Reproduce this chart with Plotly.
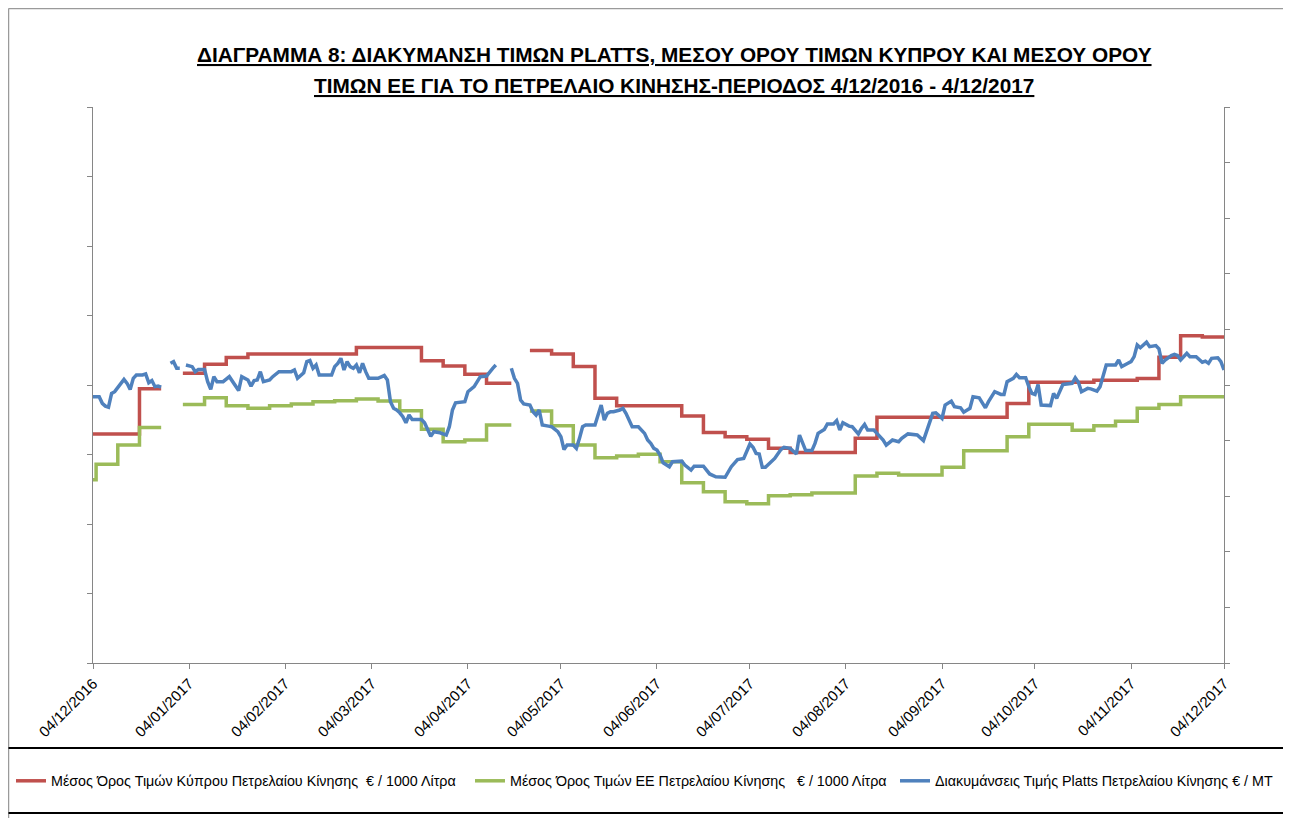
import plotly.graph_objects as go

# ---------------- data ----------------
red_name = "Μέσος Όρος Τιμών Κύπρου Πετρελαίου Κίνησης  € / 1000 Λίτρα"
green_name = "Μέσος Όρος Τιμών ΕΕ Πετρελαίου Κίνησης   € / 1000 Λίτρα"
blue_name = "Διακυμάνσεις Τιμής Platts Πετρελαίου Κίνησης € / MT"

red_dates = ["2016-12-04", "2016-12-19", "2016-12-26", "2016-12-27", "2017-01-02", "2017-01-09",
             "2017-01-16", "2017-01-23", "2017-02-27", "2017-03-20", "2017-03-27", "2017-04-03",
             "2017-04-10", "2017-04-18", "2017-04-19", "2017-04-24", "2017-05-01", "2017-05-08",
             "2017-05-15", "2017-05-22", "2017-06-12", "2017-06-19", "2017-06-26", "2017-07-03",
             "2017-07-10", "2017-07-17", "2017-08-07", "2017-08-14", "2017-09-25", "2017-10-02",
             "2017-10-23", "2017-11-06", "2017-11-13", "2017-11-20", "2017-11-27", "2017-12-04"]
red_vals = [659, 789, 789, None, 834, 860, 879, 889, 908, 870, 855, 831, 805, 805, None,
            899, 889, 853, 762, 740, 711, 663, 651, 644, 618, 606, 647, 707, 747, 808,
            814, 819, 880, 942, 938, 938]

green_dates = ["2016-12-04", "2016-12-05", "2016-12-12", "2016-12-19", "2016-12-26", "2016-12-27",
               "2017-01-02", "2017-01-09", "2017-01-16", "2017-01-23", "2017-01-30", "2017-02-06",
               "2017-02-13", "2017-02-20", "2017-02-27", "2017-03-06", "2017-03-13", "2017-03-20",
               "2017-03-27", "2017-04-03", "2017-04-10", "2017-04-18", "2017-04-19", "2017-04-24",
               "2017-05-01", "2017-05-08", "2017-05-15", "2017-05-22", "2017-05-29", "2017-06-05",
               "2017-06-12", "2017-06-19", "2017-06-26", "2017-07-03", "2017-07-10", "2017-07-17",
               "2017-07-24", "2017-08-07", "2017-08-14", "2017-08-21", "2017-09-04", "2017-09-11",
               "2017-09-25", "2017-10-02", "2017-10-16", "2017-10-23", "2017-10-30", "2017-11-06",
               "2017-11-13", "2017-11-20", "2017-12-04"]
green_vals = [527, 572, 627, 678, 678, None, 744, 763, 740, 733, 740, 745, 752, 755, 760, 754,
              726, 673, 637, 642, 685, 685, None, 725, 683, 627, 591, 596, 601, 579, 519, 493,
              464, 458, 481, 484, 489, 538, 546, 541, 563, 611, 651, 687, 670, 683, 696, 733,
              744, 766, 766]

blue_dates = [
    "2016-12-04", "2016-12-06", "2016-12-07", "2016-12-08", "2016-12-09", "2016-12-10", "2016-12-11",
    "2016-12-13", "2016-12-14", "2016-12-15", "2016-12-16", "2016-12-17", "2016-12-18", "2016-12-20",
    "2016-12-21", "2016-12-22", "2016-12-23", "2016-12-24", "2016-12-25", "2016-12-26", "2016-12-27",
    "2016-12-29", "2016-12-30", "2016-12-31", "2017-01-01", "2017-01-02", "2017-01-03", "2017-01-05",
    "2017-01-06", "2017-01-07", "2017-01-09", "2017-01-10", "2017-01-11", "2017-01-12", "2017-01-13",
    "2017-01-15", "2017-01-17", "2017-01-18", "2017-01-20", "2017-01-21", "2017-01-23", "2017-01-24",
    "2017-01-25", "2017-01-26", "2017-01-27", "2017-01-28", "2017-01-30", "2017-01-31", "2017-02-02",
    "2017-02-06", "2017-02-07", "2017-02-08", "2017-02-10", "2017-02-11", "2017-02-12", "2017-02-13",
    "2017-02-14", "2017-02-15", "2017-02-17", "2017-02-19", "2017-02-20", "2017-02-21", "2017-02-22",
    "2017-02-23", "2017-02-24", "2017-02-25", "2017-02-26", "2017-02-27", "2017-02-28", "2017-03-01",
    "2017-03-02", "2017-03-03", "2017-03-06", "2017-03-07", "2017-03-08", "2017-03-09", "2017-03-10",
    "2017-03-11", "2017-03-12", "2017-03-13", "2017-03-14", "2017-03-15", "2017-03-16", "2017-03-17",
    "2017-03-20", "2017-03-21", "2017-03-22", "2017-03-23", "2017-03-24", "2017-03-26", "2017-03-28",
    "2017-03-29", "2017-03-30", "2017-03-31", "2017-04-03", "2017-04-04", "2017-04-06", "2017-04-07",
    "2017-04-08", "2017-04-10", "2017-04-11", "2017-04-12", "2017-04-13", "2017-04-14", "2017-04-18",
    "2017-04-19", "2017-04-20", "2017-04-21", "2017-04-22", "2017-04-24", "2017-04-25", "2017-04-26",
    "2017-04-27", "2017-04-28", "2017-04-30", "2017-05-01", "2017-05-03", "2017-05-04", "2017-05-05",
    "2017-05-06", "2017-05-08", "2017-05-09", "2017-05-10", "2017-05-11", "2017-05-12", "2017-05-15",
    "2017-05-16", "2017-05-17", "2017-05-18", "2017-05-19", "2017-05-20", "2017-05-21", "2017-05-23",
    "2017-05-24", "2017-05-25", "2017-05-27", "2017-05-29", "2017-05-31", "2017-06-01", "2017-06-02",
    "2017-06-03", "2017-06-04", "2017-06-05", "2017-06-06", "2017-06-08", "2017-06-09", "2017-06-12",
    "2017-06-13", "2017-06-15", "2017-06-16", "2017-06-19", "2017-06-21", "2017-06-23", "2017-06-26",
    "2017-06-28", "2017-06-30", "2017-07-02", "2017-07-04", "2017-07-05", "2017-07-06", "2017-07-07",
    "2017-07-08", "2017-07-09", "2017-07-11", "2017-07-12", "2017-07-14", "2017-07-15", "2017-07-17",
    "2017-07-19", "2017-07-20", "2017-07-22", "2017-07-24", "2017-07-25", "2017-07-26", "2017-07-28",
    "2017-07-29", "2017-07-31", "2017-08-01", "2017-08-02", "2017-08-03", "2017-08-05", "2017-08-06",
    "2017-08-08", "2017-08-09", "2017-08-10", "2017-08-11", "2017-08-13", "2017-08-14", "2017-08-16",
    "2017-08-17", "2017-08-19", "2017-08-21", "2017-08-22", "2017-08-24", "2017-08-27", "2017-08-29",
    "2017-08-31", "2017-09-01", "2017-09-02", "2017-09-04", "2017-09-05", "2017-09-07", "2017-09-08",
    "2017-09-10", "2017-09-11", "2017-09-13", "2017-09-14", "2017-09-16", "2017-09-18", "2017-09-19",
    "2017-09-21", "2017-09-23", "2017-09-24", "2017-09-25", "2017-09-27", "2017-09-28", "2017-09-29",
    "2017-10-01", "2017-10-02", "2017-10-03", "2017-10-04", "2017-10-05", "2017-10-06", "2017-10-08",
    "2017-10-09", "2017-10-10", "2017-10-11", "2017-10-13", "2017-10-16", "2017-10-17", "2017-10-18",
    "2017-10-19", "2017-10-21", "2017-10-22", "2017-10-24", "2017-10-25", "2017-10-26", "2017-10-27",
    "2017-10-28", "2017-10-30", "2017-10-31", "2017-11-01", "2017-11-03", "2017-11-04", "2017-11-05",
    "2017-11-06", "2017-11-07", "2017-11-09", "2017-11-10", "2017-11-12", "2017-11-13", "2017-11-14",
    "2017-11-15", "2017-11-17", "2017-11-18", "2017-11-19", "2017-11-20", "2017-11-22", "2017-11-23",
    "2017-11-25", "2017-11-27", "2017-11-28", "2017-11-29", "2017-11-30", "2017-12-02", "2017-12-03",
    "2017-12-04"]
blue_vals = [
    479, 479, 467, 462, 460, 485, 488,
    503, 510, 503, 492, 512, 518, 518,
    520, 504, 508, 497, 498, 496, None,
    539, 542, 530, 530, None, 536, 533,
    524, 528, 528, 506, 492, 515, 506,
    506, 515, 506, 490, 515, 509, 498,
    508, 509, 524, 506, 509, 515, 524,
    524, 527, 512, 522, 542, 544, 530,
    536, 518, 518, 518, 533, 539, 548,
    527, 542, 533, 530, 536, 522, 539,
    524, 512, 512, 515, 517, 509, 470,
    458, 455, 450, 443, 432, 446, 438,
    438, 432, 419, 408, 416, 414, 410,
    425, 455, 468, 470, 488, 497, 506,
    515, 516, 524, 530, 536, None, 530,
    512, 503, 473, 466, 464, 452, 446,
    455, 428, 426, 425, 416, 407, 384,
    392, 392, 386, 404, 425, 428, 428,
    446, 464, 437, 449, 452, 452, 455,
    458, 449, 425, 425, 413, 401, 395,
    386, 383, 374, 360, 353, 362, 363,
    356, 347, 354, 354, 340, 335, 334,
    353, 366, 368, 394, 388, 377, 376,
    352, 352, 362, 368, 384, 388, 386,
    376, 410, 382, 382, 395, 413, 420,
    430, 430, 436, 419, 432, 426, 425,
    412, 422, 429, 419, 419, 413, 401,
    392, 401, 398, 404, 412, 410, 400,
    434, 449, 450, 440, 464, 471, 461,
    459, 451, 458, 479, 477, 459, 470,
    488, 483, 483, 506, 512, 519, 513,
    513, 497, 485, 483, 501, 464, 463,
    463, 485, 476, 501, 503, 513, 505,
    488, 494, 493, 489, 497, 515, 536,
    536, 536, 545, 533, 539, 542, 551,
    572, 567, 577, 569, 571, 565, 539,
    545, 553, 555, 553, 545, 557, 551,
    551, 541, 543, 539, 548, 549, 542,
    527]

x_start = "2016-12-04"
x_end = "2017-12-04"

# ---------------- figure ----------------
RED = "#C0504D"
GREEN = "#9BBB59"
BLUE = "#4F81BD"
AXIS = "#868686"
FONT = "Liberation Sans, Arial, sans-serif"
TFONT = "Liberation Sans, Arial, sans-serif"

OFF = 8                      # page body margin of the html
W, H = 1291 - OFF, 818 - OFF
L, R, T, B = 85, 67, 99, 155
PW, PH = W - L - R, H - T - B


def px_x(p):
    """page pixel x -> paper x"""
    return (p - OFF - L) / PW


def px_y(p):
    """page pixel y -> paper y"""
    return (H - B - (p - OFF)) / PH


def cx(p):
    return (p - OFF) / W


def cy(p):
    return 1 - (p - OFF) / H


fig = go.Figure()
fig.add_trace(go.Scatter(x=red_dates, y=red_vals, name=red_name, mode="lines",
                         line=dict(color=RED, width=3.5, shape="hv"), yaxis="y",
                         legend="legend"))
fig.add_trace(go.Scatter(x=green_dates, y=green_vals, name=green_name, mode="lines",
                         line=dict(color=GREEN, width=3.5, shape="hv"), yaxis="y",
                         legend="legend2"))
fig.add_trace(go.Scatter(x=blue_dates, y=blue_vals, name=blue_name, mode="lines",
                         line=dict(color=BLUE, width=3.5), yaxis="y2",
                         legend="legend3"))

leg_common = dict(orientation="h", xref="container", yref="container",
                  xanchor="left", yanchor="middle",
                  font=dict(size=14.3, family=FONT, color="#000000"),
                  itemwidth=30, bgcolor="rgba(0,0,0,0)", borderwidth=0)

fig.update_layout(
    width=W, height=H,
    margin=dict(l=L, r=R, t=T, b=B),
    paper_bgcolor="white", plot_bgcolor="white",
    font=dict(family=FONT, color="#000000"),
    showlegend=True,
    legend=dict(x=cx(11), y=cy(781), **leg_common),
    legend2=dict(x=cx(470), y=cy(781), **leg_common),
    legend3=dict(x=cx(895), y=cy(781), **leg_common),
    xaxis=dict(type="date", range=[x_start, x_end], tick0=x_start, dtick="M1",
               tickformat="%d/%m/%Y", tickangle=-45, ticks="outside", ticklen=5,
               tickcolor=AXIS, showline=True, linecolor=AXIS, linewidth=1,
               showgrid=False, zeroline=False,
               tickfont=dict(size=15, family=FONT, color="#000000")),
    yaxis=dict(range=[0, 1600], dtick=200, showticklabels=False, ticks="outside",
               ticklen=5, tickcolor=AXIS, showline=True, linecolor=AXIS, linewidth=1,
               showgrid=False, zeroline=False),
    yaxis2=dict(range=[0, 1000], dtick=100, showticklabels=False, ticks="outside",
                ticklen=5, tickcolor=AXIS, showline=True, linecolor=AXIS, linewidth=1,
                showgrid=False, zeroline=False, overlaying="y", side="right"),
    annotations=[
        dict(text="<u>ΔΙΑΓΡΑΜΜΑ 8: ΔΙΑΚΥΜΑΝΣΗ ΤΙΜΩΝ PLATTS, ΜΕΣΟΥ ΟΡΟΥ ΤΙΜΩΝ ΚΥΠΡΟΥ ΚΑΙ ΜΕΣΟΥ ΟΡΟΥ</u>",
             xref="paper", yref="paper", x=px_x(674), y=px_y(55), showarrow=False,
             xanchor="center", yanchor="middle",
             font=dict(size=20.8, family=TFONT, color="#000000", weight="bold")),
        dict(text="<u>ΤΙΜΩΝ ΕΕ ΓΙΑ ΤΟ ΠΕΤΡΕΛΑΙΟ ΚΙΝΗΣΗΣ-ΠΕΡΙΟΔΟΣ 4/12/2016 - 4/12/2017</u>",
             xref="paper", yref="paper", x=px_x(674), y=px_y(85), showarrow=False,
             xanchor="center", yanchor="middle",
             font=dict(size=20.8, family=TFONT, color="#000000", weight="bold")),
    ],
    shapes=[
        dict(type="line", xref="paper", yref="paper", x0=px_x(8.5), x1=px_x(1291), y0=px_y(8.5), y1=px_y(8.5),
             line=dict(color="#9a9a9a", width=1.5)),
        dict(type="line", xref="paper", yref="paper", x0=px_x(8.5), x1=px_x(8.5), y0=px_y(8.5), y1=px_y(818),
             line=dict(color="#9a9a9a", width=1.5)),
        dict(type="line", xref="paper", yref="paper", x0=px_x(8.5), x1=px_x(1291), y0=px_y(748), y1=px_y(748),
             line=dict(color="#000000", width=2)),
        dict(type="line", xref="paper", yref="paper", x0=px_x(8.5), x1=px_x(1291), y0=px_y(813), y1=px_y(813),
             line=dict(color="#000000", width=2)),
    ],
)

fig.write_html("out.html")
